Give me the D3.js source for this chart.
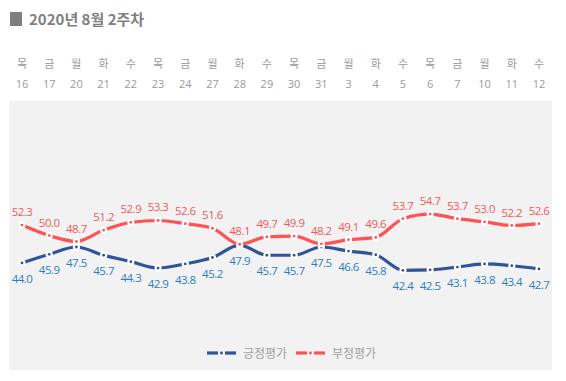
<!DOCTYPE html>
<html>
<head>
<meta charset="utf-8" />
<title>2020년 8월 2주차</title>
<style>
  body { margin: 0; background: #fff; }
  svg { display: block; }
</style>
</head>
<body>
<script src="https://d3js.org/d3.v7.min.js"></script>
<script>
var weekdays = ["목","금","월","화","수","목","금","월","화","수","목","금","월","화","수","목","금","월","화","수"];
var dates = ["16","17","20","21","22","23","24","27","28","29","30","31","3","4","5","6","7","10","11","12"];
var positive = [44.0,45.9,47.5,45.7,44.3,42.9,43.8,45.2,47.9,45.7,45.7,47.5,46.6,45.8,42.4,42.5,43.1,43.8,43.4,42.7];
var negative = [52.3,50.0,48.7,51.2,52.9,53.3,52.6,51.6,48.1,49.7,49.9,48.2,49.1,49.6,53.7,54.7,53.7,53.0,52.2,52.6];
var seriesNames = ["긍정평가","부정평가"];

var width = 566, height = 381;
var krFont = "'Noto Sans CJK KR', 'Noto Sans', sans-serif";
var numFont = "'Open Sans', 'Noto Sans', sans-serif";

var series = [
  {name: seriesNames[0], values: positive, line: "#2f5597", text: "#2e7dc3", dy: 20},
  {name: seriesNames[1], values: negative, line: "#ff5257", text: "#f05a5d", dy: -9}
];

var svg = d3.select("body").append("svg")
  .attr("width", width)
  .attr("height", height);

// title
svg.append("rect").attr("x", 10).attr("y", 12).attr("width", 12).attr("height", 14).attr("fill", "#7f7f7f");
svg.append("text").attr("x", 29).attr("y", 25)
  .attr("font-family", krFont).attr("font-size", 15).attr("font-weight", "bold")
  .attr("fill", "#7f7f7f").text("2020년 8월 2주차");

// plot background
svg.append("rect").attr("x", 9).attr("y", 101).attr("width", 543).attr("height", 269).attr("fill", "#f2f2f2");

var x = d3.scalePoint().domain(d3.range(dates.length)).range([22, 539]);
var y = d3.scaleLinear().domain([30, 65]).range([327, 167]);

// top labels
var ticks = svg.append("g");
ticks.selectAll(".wd").data(weekdays).enter().append("text")
  .attr("x", (d, i) => x(i)).attr("y", 68)
  .attr("text-anchor", "middle").attr("font-family", krFont).attr("font-size", 11)
  .attr("fill", "#9a9a9a").text(d => d);
ticks.selectAll(".dt").data(dates).enter().append("text")
  .attr("x", (d, i) => x(i)).attr("y", 88)
  .attr("text-anchor", "middle").attr("font-family", numFont).attr("font-size", 11)
  .attr("fill", "#9a9a9a").text(d => d);

var line = d3.line()
  .x((d, i) => x(i))
  .y(d => y(d))
  .curve(d3.curveMonotoneX);

series.forEach(function(s) {
  var g = svg.append("g");
  g.append("path").datum(s.values)
    .attr("d", line).attr("fill", "none")
    .attr("stroke", s.line).attr("stroke-width", 3.2);
  g.selectAll(".m").data(s.values).enter().append("circle")
    .attr("cx", (d, i) => x(i)).attr("cy", d => y(d)).attr("r", 3.6)
    .attr("fill", "#fff");
  g.selectAll(".c").data(s.values).enter().append("circle")
    .attr("cx", (d, i) => x(i)).attr("cy", d => y(d)).attr("r", 1.4)
    .attr("fill", s.line);
  g.selectAll(".lbl").data(s.values).enter().append("text")
    .attr("x", (d, i) => x(i)).attr("y", d => y(d) + s.dy)
    .attr("text-anchor", "middle").attr("font-family", numFont).attr("font-size", 11.5)
    .attr("letter-spacing", -0.5)
    .attr("fill", s.text).text(d => d.toFixed(1));
});

// legend
var legend = svg.append("g").attr("transform", "translate(0,353)");
var legendX = [207, 296];
series.forEach(function(s, i) {
  var lg = legend.append("g").attr("transform", "translate(" + legendX[i] + ",0)");
  lg.append("line").attr("x1", 0).attr("x2", 11).attr("y1", 0).attr("y2", 0)
    .attr("stroke", s.line).attr("stroke-width", 3.2);
  lg.append("line").attr("x1", 18).attr("x2", 29).attr("y1", 0).attr("y2", 0)
    .attr("stroke", s.line).attr("stroke-width", 3.2);
  lg.append("circle").attr("cx", 14.5).attr("cy", 0).attr("r", 1.4).attr("fill", s.line);
  lg.append("text").attr("x", 36).attr("y", 4.5)
    .attr("font-family", krFont).attr("font-size", 12)
    .attr("fill", "#a0a0a0").text(s.name);
});
</script>
</body>
</html>
